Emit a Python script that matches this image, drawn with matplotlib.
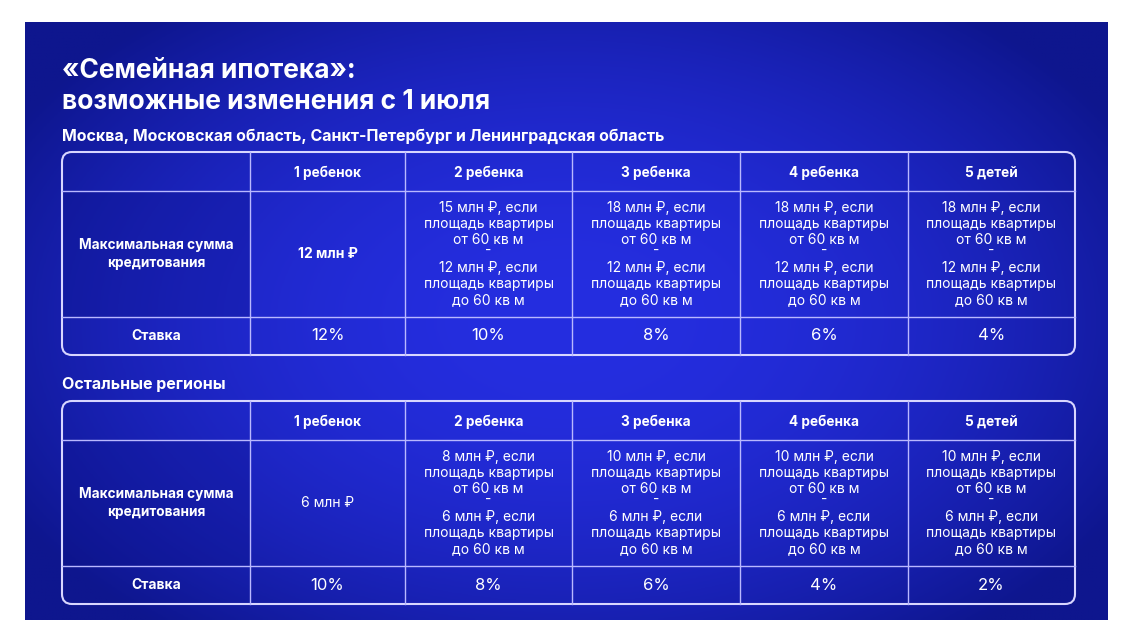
import numpy as np
import matplotlib
matplotlib.use("Agg")
import matplotlib.pyplot as plt
from matplotlib.patches import FancyBboxPatch, Rectangle

FONT = ['Inter', 'DejaVu Sans']
title1 = "«Семейная ипотека»:"
title2 = "возможные изменения с 1 июля"
region1 = "Москва, Московская область, Санкт-Петербург и Ленинградская область"
region2 = "Остальные регионы"
categories = ["1 ребенок", "2 ребенка", "3 ребенка", "4 ребенка", "5 детей"]
row_labels = ["Максимальная сумма\nкредитования", "Ставка"]
big_amounts1 = [12, 15, 18, 18, 18]
small_amounts1 = [None, 12, 12, 12, 12]
rates1 = [12, 10, 8, 6, 4]
big_amounts2 = [6, 8, 10, 10, 10]
small_amounts2 = [None, 6, 6, 6, 6]
rates2 = [10, 8, 6, 4, 2]

W, H = 1128, 642
fig = plt.figure(figsize=(W/100, H/100), dpi=100)
ax = fig.add_axes([0, 0, 1, 1])
ax.set_xlim(0, W); ax.set_ylim(H, 0); ax.axis('off')
fig.patch.set_facecolor('white')

x0, x1, y0, y1 = 25, 1108, 22, 620
xx, yy = np.meshgrid(np.linspace(-1, 1, 300), np.linspace(-1, 1, 200))
r = np.clip(np.sqrt((xx*0.85)**2 + (yy*0.75)**2), 0, 1)
c_in = np.array([0x25, 0x2e, 0xe0]) / 255
c_out = np.array([0x0e, 0x16, 0x8e]) / 255
w = r[..., None]**2
img = c_in[None, None, :] * (1 - w) + c_out[None, None, :] * w
ax.imshow(img, extent=(x0, x1, y1, y0), aspect='auto', zorder=0)

ax.text(62, 71, title1, color='white', fontsize=19, fontweight='bold', family=FONT, va='center')
ax.text(62, 102, title2, color='white', fontsize=19, fontweight='bold', family=FONT, va='center')
ax.text(62, 136, region1, color='white', fontsize=11.5, fontweight='bold', family=FONT, va='center')
ax.text(62, 385, region2, color='white', fontsize=11.5, fontweight='bold', family=FONT, va='center')

cols = [62, 250, 405, 572, 740, 908, 1075]
line_c = '#b9b8ff'

def table(top, big, small, rates):
    rows = [top, top + 39, top + 165, top + 203]
    ax.add_patch(FancyBboxPatch((cols[0], rows[0]), cols[-1] - cols[0], rows[-1] - rows[0],
                                boxstyle="round,pad=0,rounding_size=10", fill=False,
                                ec='#d8d6ff', lw=1.5, zorder=3))
    for y in rows[1:-1]:
        ax.plot([cols[0], cols[-1]], [y, y], color=line_c, lw=1, zorder=3)
    for x in cols[1:-1]:
        ax.plot([x, x], [rows[0], rows[-1]], color=line_c, lw=1, zorder=3)
    ax.add_patch(Rectangle((cols[0], rows[1]), cols[1]-cols[0], rows[2]-rows[1],
                           color='#0c128a', alpha=0.3, zorder=1, lw=0))
    lab_x = (cols[0] + cols[1]) / 2
    ax.text(lab_x, (rows[1]+rows[2])/2, row_labels[0], ha='center', va='center', color='white',
            fontsize=9.8, fontweight='bold', family=FONT, linespacing=1.35)
    ax.text(lab_x, (rows[2]+rows[3])/2, row_labels[1], ha='center', va='center', color='white',
            fontsize=10, fontweight='bold', family=FONT)
    for i, cat in enumerate(categories):
        cx = (cols[i+1] + cols[i+2]) / 2
        ax.text(cx, (rows[0]+rows[1])/2 + 1, cat, ha='center', va='center', color='white',
                fontsize=9.8, fontweight='bold', family=FONT)
        mid = (rows[1]+rows[2])/2
        if small[i] is None:
            ax.text(cx, mid, f"{big[i]} млн ₽", ha='center', va='center', color='white',
                    fontsize=10, fontweight='bold' if top < 300 else 'normal', family=FONT)
        else:
            ax.text(cx, mid - 30, f"{big[i]} млн ₽, если\nплощадь квартиры\nот 60 кв м",
                    ha='center', va='center', color='white', fontsize=10, family=FONT, linespacing=1.2)
            ax.text(cx, mid - 3, "-", ha='center', va='center', color='white', fontsize=10, family=FONT)
            ax.text(cx, mid + 30, f"{small[i]} млн ₽, если\nплощадь квартиры\nдо 60 кв м",
                    ha='center', va='center', color='white', fontsize=10, family=FONT, linespacing=1.2)
        ax.text(cx, (rows[2]+rows[3])/2, f"{rates[i]}%", ha='center', va='center', color='white',
                fontsize=12, family=FONT)

table(152, big_amounts1, small_amounts1, rates1)
table(401, big_amounts2, small_amounts2, rates2)

fig.savefig('out.png', dpi=100)
